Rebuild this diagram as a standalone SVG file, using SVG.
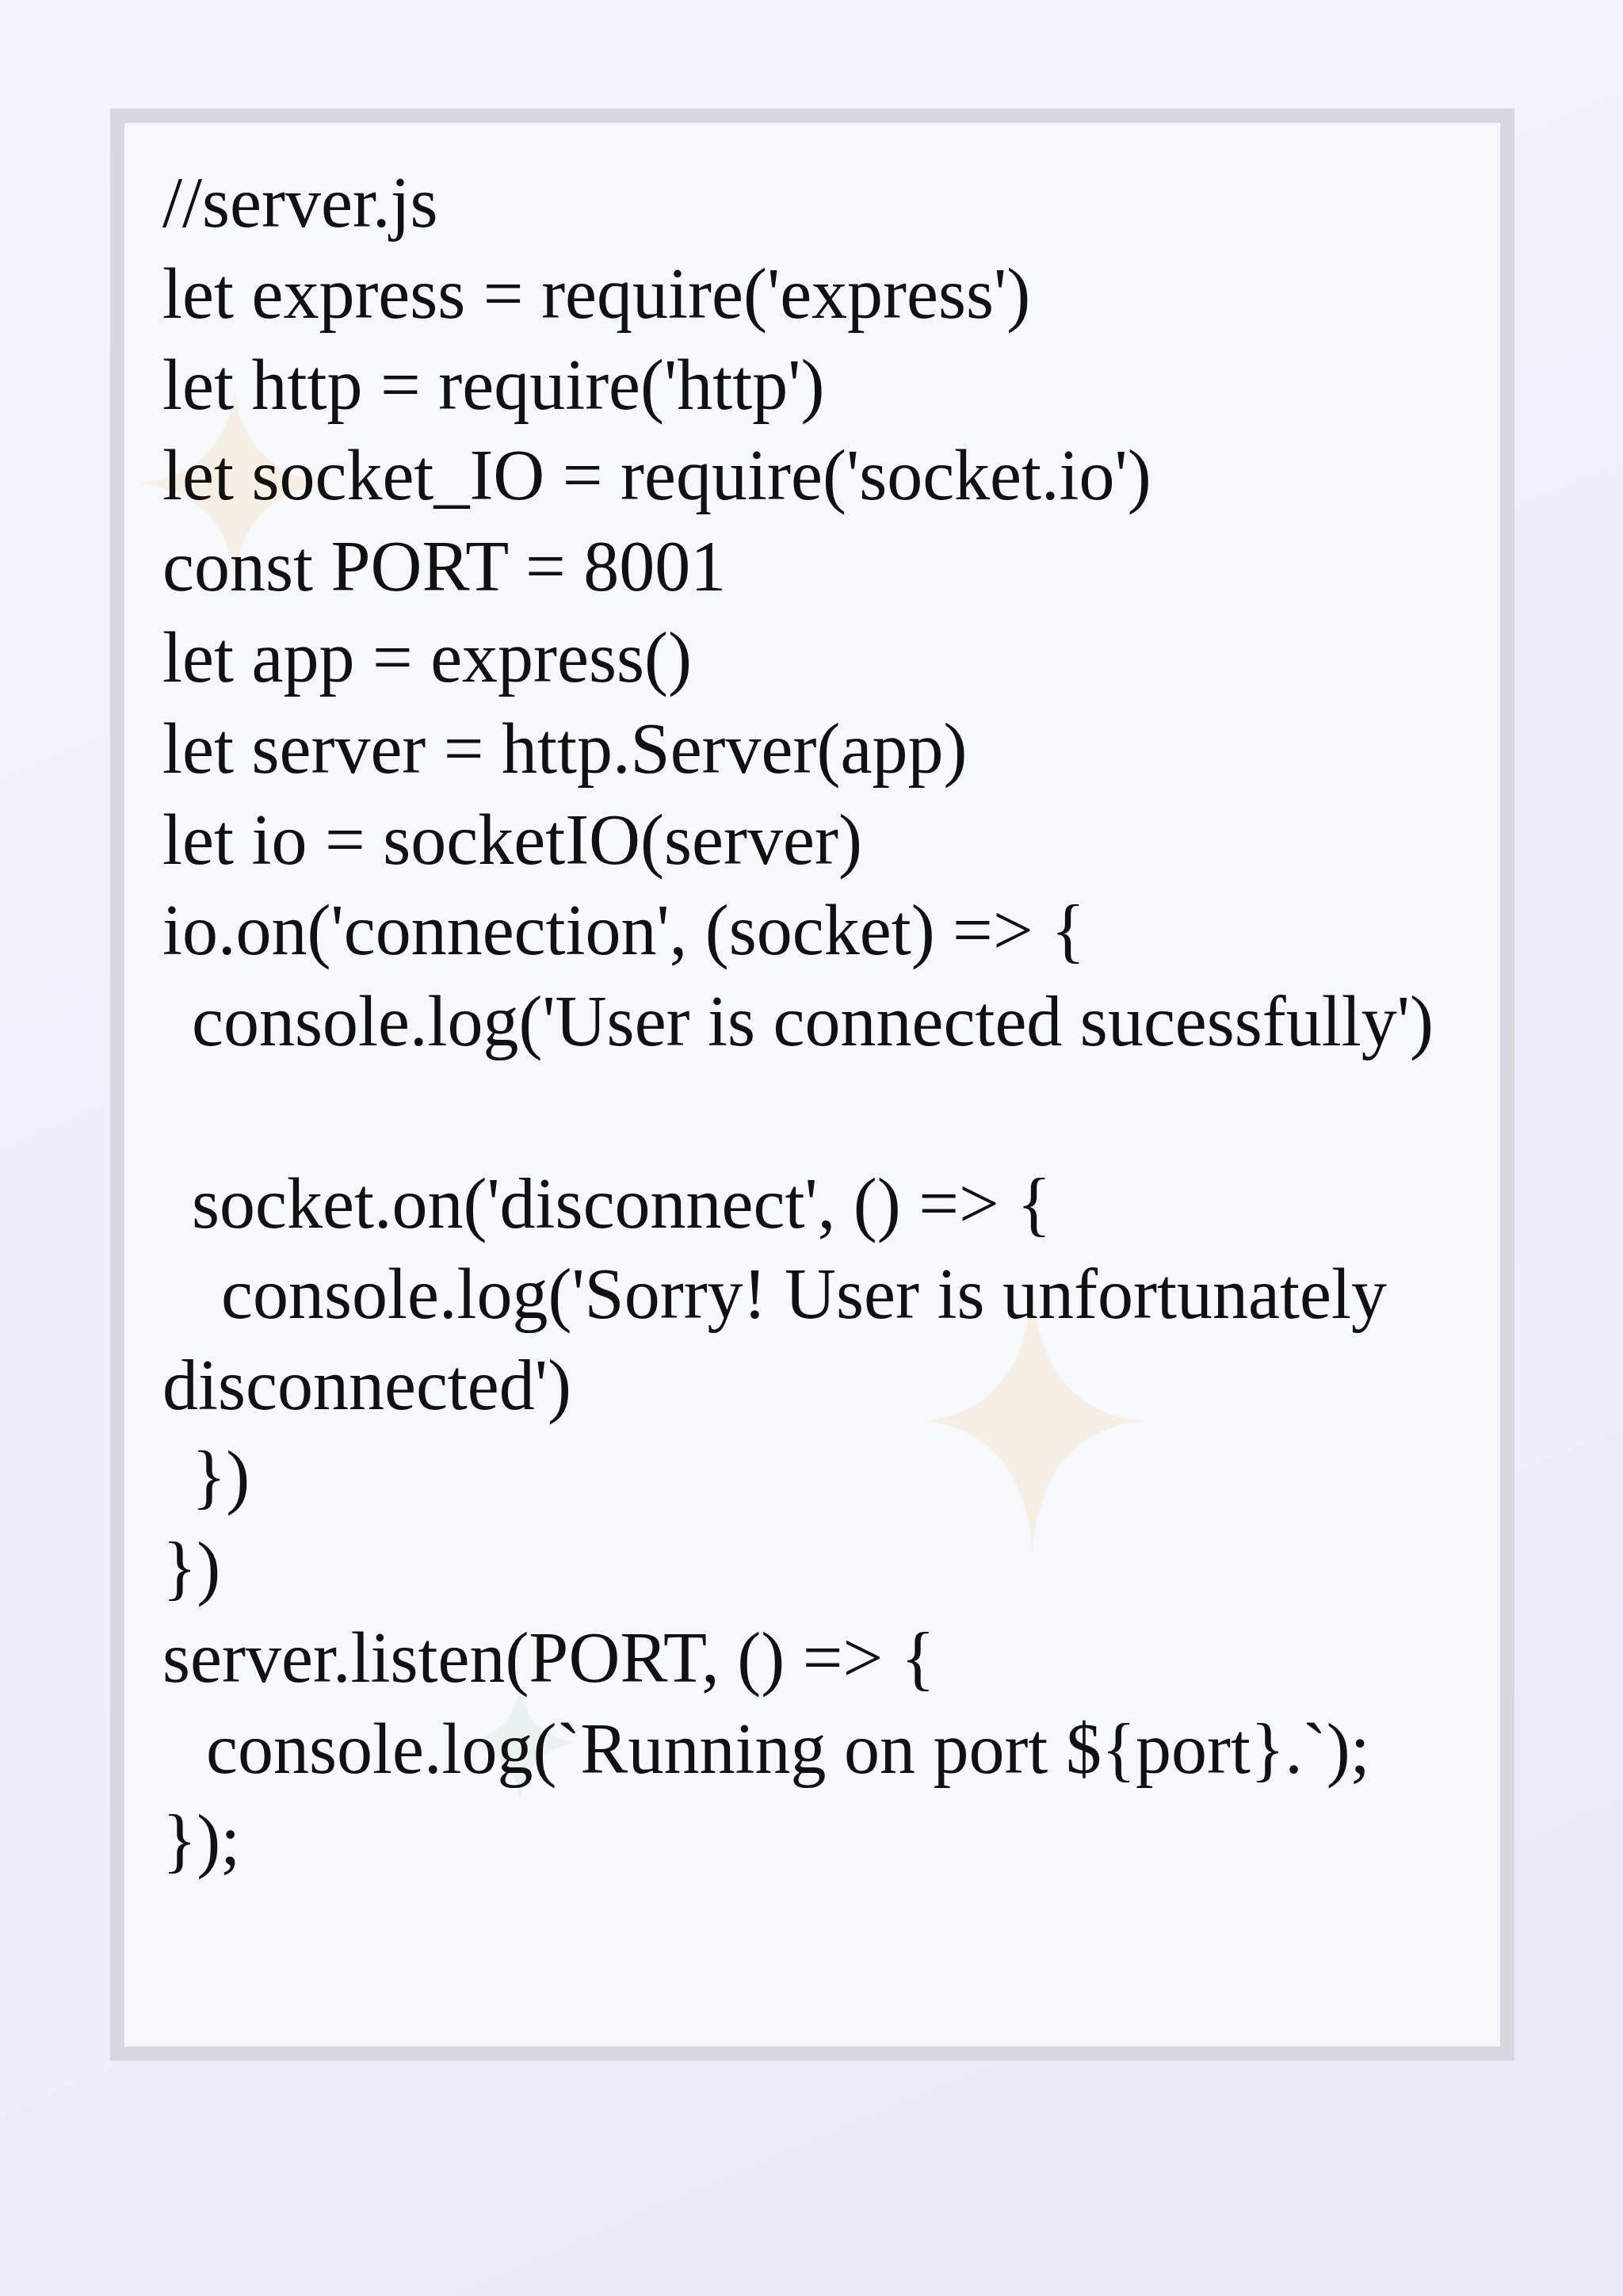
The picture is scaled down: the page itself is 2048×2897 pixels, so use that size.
<svg xmlns="http://www.w3.org/2000/svg" width="2048" height="2897" viewBox="0 0 2048 2897">
<defs>
<linearGradient id="bg" x1="0" y1="0" x2="0.3" y2="1">
<stop offset="0" stop-color="#f4f5fb"/><stop offset="1" stop-color="#e9ecf8"/>
</linearGradient>
<style>
.code{font-family:"Liberation Serif",serif;font-size:90px;fill:#111}
.star{opacity:0.4}
</style>
</defs>
<rect width="2048" height="2897" fill="url(#bg)"/>
<g id="box">
<rect x="148" y="146" width="1754" height="2445" fill="#f7f8fc" stroke="#d5d9de" stroke-width="18"/>
</g>
<path class="star" fill="#f3e2c4" d="M296 490 Q308 598 416 610 Q308 622 296 730 Q284 622 176 610 Q284 598 296 490Z"/>
<path class="star" fill="#f3e2c4" d="M1303 1627 Q1315 1781 1442 1793 Q1315 1805 1303 1959 Q1291 1805 1164 1793 Q1291 1781 1303 1627Z"/>
<path class="star" fill="#d8ece2" d="M656 2125 Q664 2191 730 2199 Q664 2207 656 2273 Q648 2207 582 2199 Q648 2191 656 2125Z"/>
<g id="code" class="code">
<text x="205" y="286">//server.js</text>
<text x="205" y="401">let express = require('express')</text>
<text x="205" y="516">let http = require('http')</text>
<text x="205" y="630">let socket_IO = require('socket.io')</text>
<text x="205" y="745">const PORT = 8001</text>
<text x="205" y="860">let app = express()</text>
<text x="205" y="975">let server = http.Server(app)</text>
<text x="205" y="1090">let io = socketIO(server)</text>
<text x="205" y="1204">io.on('connection', (socket) =&gt; {</text>
<text x="242" y="1319">console.log('User is connected sucessfully')</text>
<text x="242" y="1549">socket.on('disconnect', () =&gt; {</text>
<text x="279" y="1663">console.log('Sorry! User is unfortunately</text>
<text x="205" y="1778">disconnected')</text>
<text x="242" y="1893">})</text>
<text x="205" y="2008">})</text>
<text x="205" y="2122">server.listen(PORT, () =&gt; {</text>
<text x="260" y="2237">console.log(`Running on port ${port}.`);</text>
<text x="205" y="2352">});</text>
</g>
</svg>
